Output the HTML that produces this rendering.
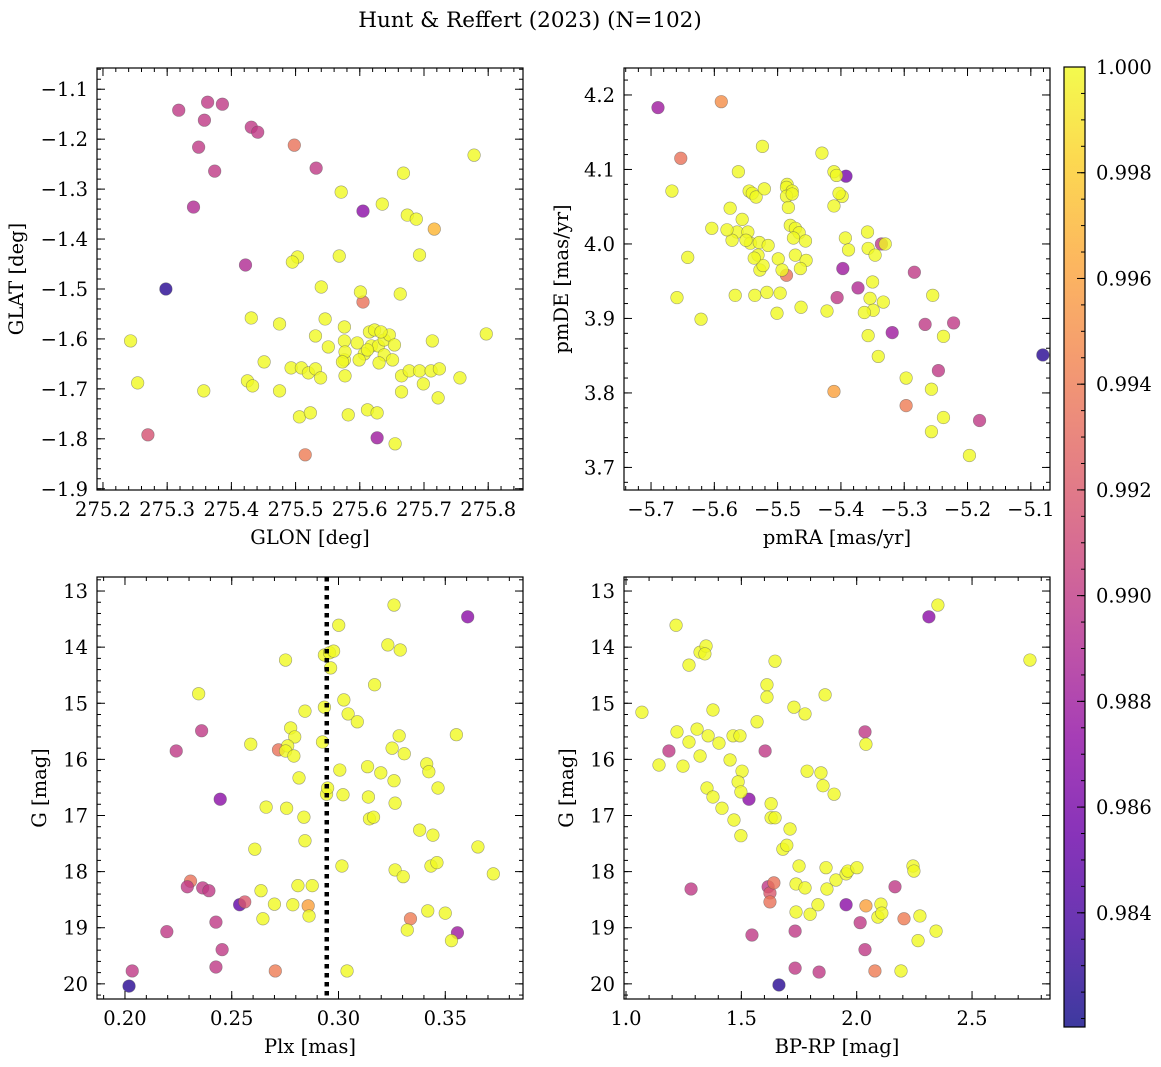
<!DOCTYPE html>
<html><head><meta charset="utf-8">
<style>
html,body{margin:0;padding:0;background:#fff;}
svg{display:block;font-family:"DejaVu Serif","Liberation Serif",serif;}
</style></head>
<body>
<svg id="chart" width="1161" height="1067" viewBox="0 0 1161 1067" xmlns="http://www.w3.org/2000/svg">
<text x="530" y="27" font-size="21.5" text-anchor="middle">Hunt &amp; Reffert (2023) (N=102)</text>
</svg>
<script>
// ---- Panel 1: GLON / GLAT ----
const p1Lon=[275.318,275.363,275.386,275.358,275.349,275.374,275.341,275.431,275.441,275.498,275.532,275.605,275.422,275.298,275.605,275.270,275.515,275.627,275.716,
275.243,275.254,275.357,275.778,275.668,275.571,275.635,275.674,275.688,275.568,275.503,275.495,275.693,275.663,275.601,275.540,275.431,275.546,275.475,275.576,
275.531,275.551,275.576,275.596,275.615,275.618,275.607,275.629,275.638,275.646,275.623,275.633,275.654,275.638,275.612,275.630,275.651,275.576,275.577,275.599,
275.451,275.425,275.433,275.475,275.493,275.509,275.520,275.531,275.506,275.523,275.582,275.539,275.665,275.677,275.693,275.711,275.724,275.699,275.665,275.713,
275.797,275.756,275.722,275.612,275.627,275.655,275.573,275.577];
const p1Lat=[-1.142,-1.126,-1.130,-1.162,-1.216,-1.264,-1.336,-1.176,-1.186,-1.212,-1.258,-1.344,-1.452,-1.500,-1.526,-1.792,-1.832,-1.798,-1.380,
-1.604,-1.688,-1.704,-1.232,-1.268,-1.306,-1.330,-1.352,-1.360,-1.434,-1.436,-1.446,-1.432,-1.510,-1.506,-1.496,-1.558,-1.560,-1.570,-1.576,
-1.594,-1.616,-1.604,-1.608,-1.586,-1.614,-1.630,-1.614,-1.602,-1.592,-1.582,-1.586,-1.612,-1.632,-1.622,-1.648,-1.642,-1.642,-1.626,-1.642,
-1.646,-1.684,-1.694,-1.704,-1.658,-1.658,-1.668,-1.660,-1.756,-1.748,-1.752,-1.678,-1.674,-1.664,-1.664,-1.664,-1.660,-1.690,-1.706,-1.604,
-1.590,-1.678,-1.718,-1.742,-1.748,-1.810,-1.646,-1.674];
const p1Prob=[0.990,0.990,0.990,0.990,0.990,0.990,0.989,0.990,0.990,0.9935,0.990,0.987,0.989,0.9827,0.9935,0.9915,0.994,0.988,0.997];

// ---- Panel 2: pmRA / pmDE ----
const p2Pmra=[-5.689,-5.589,-5.653,-5.392,-5.397,-5.486,-5.406,-5.373,-5.336,-5.284,-5.319,-5.267,-5.222,-5.246,-5.181,-5.081,-5.297,-5.411,
-5.667,-5.562,-5.524,-5.545,-5.540,-5.534,-5.521,-5.430,-5.411,-5.407,-5.398,-5.411,-5.403,-5.485,-5.486,-5.477,-5.486,-5.477,-5.483,
-5.556,-5.575,-5.564,-5.547,-5.543,-5.529,-5.550,-5.531,-5.499,-5.528,-5.515,-5.480,-5.472,-5.466,-5.475,-5.472,-5.456,-5.455,-5.493,
-5.523,-5.572,-5.580,-5.537,-5.567,-5.536,-5.517,-5.496,-5.464,-5.642,-5.604,-5.659,-5.621,-5.501,-5.463,-5.422,-5.393,-5.388,-5.358,
-5.357,-5.346,-5.330,-5.350,-5.354,-5.349,-5.333,-5.363,-5.357,-5.341,-5.255,-5.238,-5.297,-5.257,-5.257,-5.238,-5.197];
const p2Pmde=[4.183,4.191,4.115,4.091,3.967,3.958,3.928,3.941,4.000,3.962,3.881,3.892,3.894,3.830,3.763,3.851,3.783,3.802,
4.071,4.097,4.131,4.071,4.068,4.063,4.074,4.122,4.097,4.092,4.064,4.051,4.068,4.080,4.076,4.071,4.064,4.067,4.049,
4.033,4.048,4.016,4.016,4.001,4.002,4.005,3.985,3.980,3.965,3.998,4.025,4.021,4.015,4.008,3.985,4.004,3.978,3.965,
3.971,4.005,4.019,3.981,3.931,3.931,3.935,3.934,3.967,3.982,4.021,3.928,3.899,3.907,3.915,3.910,4.008,3.992,4.016,
3.994,3.985,4.000,3.949,3.927,3.911,3.922,3.908,3.877,3.849,3.931,3.876,3.820,3.805,3.748,3.767,3.716];
const p2Prob=[0.988,0.995,0.9935,0.986,0.988,0.9935,0.990,0.989,0.990,0.990,0.988,0.990,0.990,0.990,0.990,0.9827,0.994,0.996];

// ---- Panel 3: Plx / G ----
const p3Plx=[0.2034,0.2019,0.2196,0.2240,0.2307,0.2292,0.2359,0.2364,0.2393,0.2446,0.2426,0.2426,0.2455,0.2537,0.2561,0.2704,0.2719,0.2858,0.3337,0.3605,0.3557,
0.2345,0.2589,0.2608,0.2661,0.2637,0.2646,0.2752,0.2776,0.2795,0.2762,0.2752,0.2791,0.2843,0.2815,0.2757,0.2838,0.2843,0.2810,0.2786,0.2700,0.2877,0.2862,
0.2934,0.2958,0.2963,0.2934,0.2925,0.2944,0.2949,0.3001,0.2977,0.3025,0.3045,0.3088,0.3021,0.3016,0.3040,0.3006,0.3140,0.3145,0.3164,0.3169,0.3136,0.3198,
0.3231,0.3260,0.3289,0.3251,0.3284,0.3308,0.3265,0.3260,0.3265,0.3303,0.3322,0.3380,0.3413,0.3423,0.3442,0.3433,0.3466,0.3461,0.3418,0.3500,0.3529,0.3552,0.3653,0.3725];
const p3G=[19.77,20.04,19.07,15.85,18.17,18.27,15.49,18.29,18.34,16.71,18.90,19.70,19.39,18.59,18.54,19.77,15.83,18.61,18.84,13.46,19.09,
14.83,15.73,17.60,16.85,18.34,18.84,14.23,15.44,15.60,15.76,15.85,15.94,15.14,16.33,16.87,17.03,17.45,18.25,18.59,18.58,18.25,18.79,
14.14,14.10,14.37,15.07,15.69,16.62,16.51,13.61,14.07,14.94,15.19,15.33,16.63,17.90,19.77,16.19,16.67,17.06,17.03,14.67,16.13,16.24,
13.96,13.25,14.05,15.80,15.58,15.90,16.78,16.38,17.97,18.09,19.04,17.26,16.08,16.22,17.35,17.90,16.51,17.84,18.70,18.74,19.23,15.56,17.56,18.04];
const p3Prob=[0.990,0.9827,0.990,0.990,0.9935,0.990,0.990,0.990,0.990,0.987,0.990,0.990,0.990,0.985,0.992,0.994,0.9935,0.996,0.994,0.987,0.988];

// ---- Panel 4: BP-RP / G ----
const p4Col=[1.186,1.282,1.603,1.616,1.624,1.624,1.641,1.533,1.546,1.733,1.733,1.837,1.663,1.954,2.036,2.015,2.036,2.166,2.313,2.079,2.205,2.040,
1.069,1.217,1.221,1.143,1.273,1.321,1.347,1.342,1.273,1.247,1.308,1.321,1.356,1.351,1.377,1.377,1.403,1.416,1.468,1.451,1.464,1.494,1.498,1.503,1.486,1.498,
1.568,1.611,1.611,1.646,1.629,1.629,1.646,1.680,1.697,1.711,1.728,1.737,1.737,1.776,1.750,1.776,1.785,1.798,1.845,1.832,1.854,1.863,1.867,1.871,1.910,1.902,
1.954,1.962,2.001,2.040,2.092,2.105,2.109,2.192,2.244,2.248,2.274,2.266,2.344,2.352,2.751];
const p4G=[15.85,18.31,15.85,18.27,18.38,18.54,18.20,16.71,19.13,19.06,19.72,19.79,20.02,18.59,15.51,18.91,19.39,18.27,13.46,19.77,18.84,18.61,
15.16,13.61,15.51,16.10,14.32,14.09,13.98,14.12,15.69,16.12,15.46,15.94,15.58,16.51,15.12,16.67,15.71,16.87,17.08,16.01,15.58,15.58,17.36,16.21,16.40,16.58,
15.33,14.67,14.89,14.25,16.79,17.04,17.04,17.60,17.53,17.24,15.07,18.22,18.72,15.19,17.90,18.29,16.21,18.76,16.24,18.59,16.47,14.85,17.93,18.31,18.15,16.62,
18.04,17.99,17.93,15.73,18.81,18.58,18.74,19.77,17.90,17.99,18.79,19.23,19.06,13.25,14.23];
const p4Prob=[0.990,0.990,0.990,0.990,0.992,0.9935,0.9935,0.987,0.990,0.990,0.990,0.990,0.9827,0.987,0.990,0.990,0.990,0.990,0.987,0.994,0.994,0.996];

// tick arrays
const p1XTicks=[275.2,275.3,275.4,275.5,275.6,275.7,275.8];
const p1YTicks=[-1.1,-1.2,-1.3,-1.4,-1.5,-1.6,-1.7,-1.8,-1.9];
const p2XTicks=[-5.7,-5.6,-5.5,-5.4,-5.3,-5.2,-5.1];
const p2YTicks=[4.2,4.1,4.0,3.9,3.8,3.7];
const p3XTicks=[0.20,0.25,0.30,0.35];
const gTicks=[13,14,15,16,17,18,19,20];
const p4XTicks=[1.0,1.5,2.0,2.5];
const cbTicks=[1.000,0.998,0.996,0.994,0.992,0.990,0.988,0.986,0.984];
const plxLine=[0.2945];
const probMin=0.98184, probMax=1.0;

const NS='http://www.w3.org/2000/svg';
const svg=document.getElementById('chart');
const FS=19.5;
function mk(tag,attrs,parent){const e=document.createElementNS(NS,tag);for(const k in attrs)e.setAttribute(k,attrs[k]);(parent||svg).appendChild(e);return e;}
const plasma=[[13,8,135],[65,4,157],[106,0,168],[143,13,164],[177,42,144],[204,71,120],[225,100,98],[242,132,75],[252,166,54],[252,206,37],[240,249,33]];
function cmap(t){t=Math.max(0,Math.min(1,t));const s=t*10,i=Math.min(9,Math.floor(s)),f=s-i;const a=plasma[i],b=plasma[i+1];
return 'rgb('+[0,1,2].map(k=>Math.round(a[k]+(b[k]-a[k])*f)).join(',')+')';}
function fmt(v,d){const s=Math.abs(v).toFixed(d);return (v<0?'\u2212':'')+s;}

function panel(cfg){
  const g=mk('g',{});
  
  
  const {x0,x1,y0,y1,xmin,xmax,ymin,ymax}=cfg;
  const sx=v=>x0+(v-xmin)/(xmax-xmin)*(x1-x0);
  const sy=v=>cfg.invert? y0+(v-ymin)/(ymax-ymin)*(y1-y0) : y1-(v-ymin)/(ymax-ymin)*(y1-y0);
  const pg=mk('g',{},g);
  
  
  for(let i=0;i<cfg.xs.length;i++){
    const p=i<cfg.probs.length?cfg.probs[i]:1.0;
    const c=mk('circle',{cx:sx(cfg.xs[i]),cy:sy(cfg.ys[i]),r:6.3,fill:cmap((p-probMin)/(probMax-probMin)),'fill-opacity':0.8,stroke:'#555','stroke-opacity':0.55,'stroke-width':0.6},pg);
    
    
  }
  if(cfg.vline){for(const v of cfg.vline){const l=mk('line',{x1:sx(v),x2:sx(v),y1:y0,y2:y1,stroke:'#000','stroke-width':4.5,'stroke-dasharray':'4.5 4.5'},g);
    
    }}
  const fr=mk('rect',{x:x0,y:y0,width:x1-x0,height:y1-y0,fill:'none',stroke:'#000','stroke-width':1.2},g);
  
  
  const tk=mk('g',{stroke:'#000','stroke-width':1},g);
  const xstep=cfg.xt[1]-cfg.xt[0], ystep=cfg.yt[1]-cfg.yt[0];
  function minors(step,lo,hi,fn){const ms=Math.abs(step)/(cfg.ndiv||5);const st=Math.ceil(lo/ms-1e-6);for(let k=st;k*ms<=hi+1e-9;k++)fn(k*ms);}
  minors(xstep,xmin,xmax,v=>{const X=sx(v);mk('line',{x1:X,x2:X,y1:y1,y2:y1-4},tk);mk('line',{x1:X,x2:X,y1:y0,y2:y0+4},tk);});
  minors(ystep,ymin,ymax,v=>{const Y=sy(v);mk('line',{x1:x0,x2:x0+4,y1:Y,y2:Y},tk);mk('line',{x1:x1,x2:x1-4,y1:Y,y2:Y},tk);});
  for(const v of cfg.xt){const X=sx(v);mk('line',{x1:X,x2:X,y1:y1,y2:y1-8},tk);mk('line',{x1:X,x2:X,y1:y0,y2:y0+8},tk);
    const t=mk('text',{x:X,y:y1+26,'font-size':FS,'text-anchor':'middle'},g);t.textContent=fmt(v,cfg.xd);
    
    }
  for(const v of cfg.yt){const Y=sy(v);mk('line',{x1:x0,x2:x0+8,y1:Y,y2:Y},tk);mk('line',{x1:x1,x2:x1-8,y1:Y,y2:Y},tk);
    const t=mk('text',{x:x0-9,y:Y+7,'font-size':FS,'text-anchor':'end'},g);t.textContent=fmt(v,cfg.yd);
    
    }
  const xl=mk('text',{x:(x0+x1)/2,y:y1+54,'font-size':FS,'text-anchor':'middle'},g);xl.textContent=cfg.xlabel;
  
  
  const cy=(y0+y1)/2;
  const yl=mk('text',{x:cfg.ylx,y:cy,'font-size':FS,'text-anchor':'middle',transform:'rotate(-90 '+cfg.ylx+' '+cy+')'},g);yl.textContent=cfg.ylabel;
  
  
}

panel({name:'glon-glat-panel',x0:97,x1:523,y0:68,y1:490,xmin:275.1907,xmax:275.8542,ymin:-1.9025,ymax:-1.0575,xs:p1Lon,ys:p1Lat,probs:p1Prob,xt:p1XTicks,yt:p1YTicks,xd:1,yd:1,xlabel:'GLON [deg]',ylabel:'GLAT [deg]',ylx:23});
panel({name:'proper-motion-panel',x0:624,x1:1050,y0:68,y1:490,xmin:-5.7427,xmax:-5.0697,ymin:3.6697,ymax:4.2362,xs:p2Pmra,ys:p2Pmde,probs:p2Prob,xt:p2XTicks,yt:p2YTicks,xd:1,yd:1,xlabel:'pmRA [mas/yr]',ylabel:'pmDE [mas/yr]',ylx:568});
panel({name:'plx-g-panel',x0:97,x1:523,y0:577,y1:999,xmin:0.1869,xmax:0.3864,ymin:12.75,ymax:20.27,invert:true,xs:p3Plx,ys:p3G,probs:p3Prob,xt:p3XTicks,yt:gTicks,xd:2,yd:0,xlabel:'Plx [mas]',ylabel:'G [mag]',ylx:46,vline:plxLine});
panel({name:'color-magnitude-panel',x0:624,x1:1050,y0:577,y1:999,xmin:0.9913,xmax:2.8379,ymin:12.75,ymax:20.27,invert:true,xs:p4Col,ys:p4G,probs:p4Prob,xt:p4XTicks,yt:gTicks,xd:1,yd:0,xlabel:'BP-RP [mag]',ylabel:'G [mag]',ylx:573});

(function(){
  const cx0=1064,cx1=1085,cy0=67,cy1=1027;
  const defs=mk('defs',{});
  const lg=mk('linearGradient',{id:'cbg',x1:0,y1:1,x2:0,y2:0},defs);
  for(let i=0;i<=20;i++){mk('stop',{offset:i/20,'stop-color':cmap(i/20),'stop-opacity':0.8},lg);}
  const g=mk('g',{});
  
  
  mk('rect',{x:cx0,y:cy0,width:cx1-cx0,height:cy1-cy0,fill:'url(#cbg)',stroke:'#000','stroke-width':1.2},g);
  const sy=v=>cy1-(v-probMin)/(probMax-probMin)*(cy1-cy0);
  const ms=0.0005;
  for(let k=Math.ceil(probMin/ms);k*ms<=probMax+1e-9;k++){const Y=sy(k*ms);mk('line',{x1:cx1,x2:cx1-4,y1:Y,y2:Y,stroke:'#000'},g);}
  for(const v of cbTicks){const Y=sy(v);mk('line',{x1:cx1,x2:cx1-8,y1:Y,y2:Y,stroke:'#000'},g);
    const t=mk('text',{x:cx1+11,y:Y+7,'font-size':FS},g);t.textContent=v.toFixed(3);
    
    }
})();
</script>
</body></html>
